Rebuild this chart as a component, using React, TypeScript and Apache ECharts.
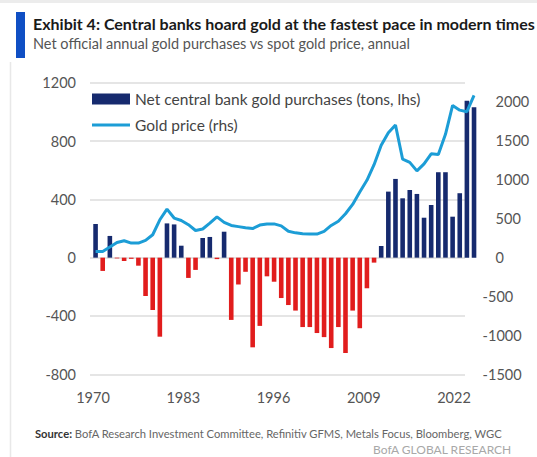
import React, { useEffect, useRef } from "react";
import * as echarts from "echarts";

const years = [
  "1970","1971","1972","1973","1974","1975","1976","1977","1978","1979",
  "1980","1981","1982","1983","1984","1985","1986","1987","1988","1989",
  "1990","1991","1992","1993","1994","1995","1996","1997","1998","1999",
  "2000","2001","2002","2003","2004","2005","2006","2007","2008","2009",
  "2010","2011","2012","2013","2014","2015","2016","2017","2018","2019",
  "2020","2021","2022","2023",
];

// Net central bank gold purchases (tons, lhs)
const purchases = [
  231, -91, 149, -5, -23, -8, -55, -263, -359, -542,
  235, 228, 82, -139, -84, 135, 142, -10, 178, -427,
  -184, -97, -615, -468, -128, -165, -277, -325, -363, -476,
  -476, -517, -545, -620, -476, -654, -363, -484, -210, -34,
  80, 453, 540, 407, 464, 437, 274, 361, 586, 586,
  281, 442, 1077, 1032,
];

// Gold price (rhs)
const goldPrice = [
  77, 77, 133, 192, 214, 184, 184, 218, 291, 483,
  620, 505, 474, 420, 345, 365, 440, 520, 450, 410,
  395, 380, 370, 415, 430, 430, 405, 335, 315, 305,
  300, 300, 335, 410, 465, 560, 680, 840, 990, 1190,
  1440, 1600, 1700, 1260, 1220, 1110, 1200, 1330, 1320, 1580,
  1950, 1890, 1870, 2080,
];

const xTickLabels = [1970, 1983, 1996, 2009, 2022];
const leftTicks = { min: -800, max: 1200, interval: 400 };
const rightTicks = { min: -1500, max: 2242, interval: 500, top: 2000 };

const FONT = "Lato, 'Noto Sans', sans-serif";
const NAVY = "#162a6e";
const RED = "#e11d1d";
const CYAN = "#1c9dd6";
const LABEL = "#555555";

const LINE_ICON = "path://M0,0 L0.01,0 L0.01,0.01 Z M0,4 L38,4 L38,7 L0,7 Z M37.99,10.99 L38,11 L37.99,11 Z";

export default function App() {
  const ref = useRef<HTMLDivElement>(null);

  useEffect(() => {
    if (!ref.current) return;
    const chart = echarts.init(ref.current, null, { renderer: "svg" });

    const gridTop = 82.7;
    const gridHeight = 291.6;

    const option: any = {
      animation: false,
      backgroundColor: "#ffffff",
      textStyle: { fontFamily: FONT },
      title: {
        text: "Exhibit 4: Central banks hoard gold at the fastest pace in modern times",
        subtext: "Net official annual gold purchases vs spot gold price, annual",
        left: 33,
        top: 15,
        padding: 0,
        itemGap: 5,
        textStyle: { fontFamily: FONT, fontWeight: "bold", fontSize: 16, color: "#1a1a1a" },
        subtextStyle: { fontFamily: FONT, fontSize: 14.5, color: "#555555" },
      },
      legend: {
        orient: "vertical",
        left: 92,
        top: 91,
        padding: 0,
        itemWidth: 38,
        itemHeight: 11,
        itemGap: 10,
        textStyle: { fontFamily: FONT, fontSize: 15.5, color: "#444444", lineHeight: 15 },
        data: [
          { name: "Net central bank gold purchases (tons, lhs)", icon: "rect" },
          { name: "Gold price (rhs)", icon: LINE_ICON },
        ],
      },
      grid: [
        { left: 92, top: gridTop, width: 385.6, height: gridHeight },
        { left: 90, top: gridTop, width: 375, height: gridHeight },
      ],
      xAxis: [
        {
          type: "category",
          gridIndex: 0,
          data: years,
          axisLine: { show: false },
          axisTick: { show: false },
          axisLabel: { show: false },
          splitLine: { show: false },
        },
        {
          type: "value",
          gridIndex: 1,
          min: 1969.568,
          max: 2023.59,
          axisLine: { show: false },
          axisTick: { show: false },
          splitLine: { show: false },
          axisLabel: {
            show: true,
            customValues: xTickLabels,
            margin: 16,
            fontFamily: FONT,
            fontSize: 14.5,
            color: LABEL,
            formatter: (v: number) => String(v),
          },
        },
      ],
      yAxis: [
        {
          type: "value",
          gridIndex: 0,
          position: "left",
          min: leftTicks.min,
          max: leftTicks.max,
          interval: leftTicks.interval,
          axisLine: { show: false },
          axisTick: { show: false },
          splitLine: { show: false },
          axisLabel: {
            margin: 16,
            fontFamily: FONT,
            fontSize: 14.5,
            color: LABEL,
            formatter: (v: number) => String(v),
          },
        },
        {
          type: "value",
          gridIndex: 0,
          position: "right",
          min: rightTicks.min,
          max: rightTicks.max,
          interval: rightTicks.interval,
          axisLine: { show: false },
          axisTick: { show: false },
          splitLine: { show: false },
          axisLabel: {
            margin: 1,
            showMaxLabel: false,
            fontFamily: FONT,
            fontSize: 14.5,
            color: LABEL,
            formatter: (v: number) => {
              if (v % rightTicks.interval !== 0 || v > rightTicks.top) return "";
              return v < 0 ? `{n|${v}}` : `{p|${v}}`;
            },
            rich: {
              n: { fontFamily: FONT, fontSize: 14.5, color: LABEL, padding: [0, 0, 0, 4] },
              p: { fontFamily: FONT, fontSize: 14.5, color: LABEL, padding: [0, 0, 0, 17] },
            },
          },
        },
        {
          type: "value",
          gridIndex: 1,
          min: leftTicks.min,
          max: leftTicks.max,
          interval: leftTicks.interval,
          axisLine: { show: false },
          axisTick: { show: false },
          axisLabel: { show: false },
          splitLine: { show: true, lineStyle: { color: "#dcdcdc", width: 1.5 } },
        },
      ],
      series: [
        {
          name: "Net central bank gold purchases (tons, lhs)",
          type: "bar",
          xAxisIndex: 0,
          yAxisIndex: 0,
          barWidth: 4.6,
          itemStyle: { color: NAVY },
          data: purchases.map((v) => (v < 0 ? { value: v, itemStyle: { color: RED } } : v)),
          z: 2,
        },
        {
          name: "Gold price (rhs)",
          type: "line",
          xAxisIndex: 0,
          yAxisIndex: 1,
          symbol: "none",
          showSymbol: false,
          lineStyle: { color: CYAN, width: 3 },
          itemStyle: { color: CYAN },
          data: goldPrice,
          z: 3,
        },
      ],
      graphic: [
        { type: "rect", shape: { x: 16, y: 12, width: 9, height: 46 }, style: { fill: "#0f4fc4" } },
        { type: "line", shape: { x1: 0, y1: 1.5, x2: 537, y2: 1.5 }, style: { stroke: "#ececec", lineWidth: 3 } },
        { type: "line", shape: { x1: 10.5, y1: 62, x2: 10.5, y2: 457 }, style: { stroke: "#e8e8e8", lineWidth: 1.5 } },
        {
          type: "text",
          left: 35,
          top: 428,
          style: {
            text: "{b|Source:} BofA Research Investment Committee, Refinitiv GFMS, Metals Focus, Bloomberg, WGC",
            fontFamily: FONT,
            fontSize: 11.2,
            fill: "#666666",
            rich: {
              b: { fontFamily: FONT, fontSize: 11.2, fontWeight: "bold", fill: "#333333", color: "#333333" },
            },
          },
        },
        {
          type: "text",
          right: 25,
          top: 443,
          style: {
            text: "BofA GLOBAL RESEARCH",
            fontFamily: FONT,
            fontSize: 12,
            fill: "#a8a8a8",
          },
        },
      ],
    };

    chart.setOption(option);
    return () => chart.dispose();
  }, []);

  return (
    <div
      ref={ref}
      style={{ position: "fixed", left: 0, top: 0, width: 537, height: 457, background: "#fff" }}
    />
  );
}
